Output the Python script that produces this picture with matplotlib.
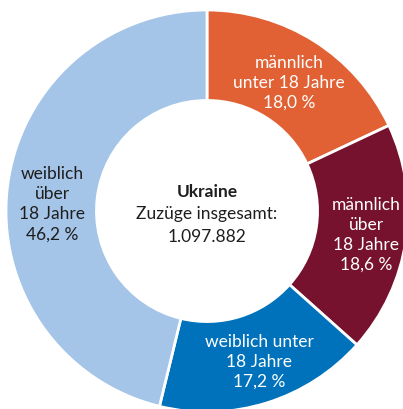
import numpy as np
import matplotlib
matplotlib.use("Agg")
import matplotlib.pyplot as plt

labels = ["männlich\nunter 18 Jahre\n18,0 %", "männlich\nüber\n18 Jahre\n18,6 %",
          "weiblich unter\n18 Jahre\n17,2 %", "weiblich\nüber\n18 Jahre\n46,2 %"]
values = [18.0, 18.6, 17.2, 46.2]
colors = ["#E26134", "#76122E", "#0072BC", "#A4C4E8"]
text_colors = ["white", "white", "white", "#1e1e1e"]
label_r = [0.76, 0.80, 0.79, 0.77]
angle_shift = [0, 0, 2, 4]
center_lines = ["Ukraine", "Zuzüge insgesamt:", "1.097.882"]
center_weights = ["bold", "normal", "normal"]

plt.rcParams['font.family'] = ['Lato', 'DejaVu Sans']

W, H = 403, 410
fig = plt.figure(figsize=(W/100, H/100), dpi=100)
cx, cy, R = 207, 212, 201
ax = fig.add_axes([(cx-R)/W, (H-cy-R)/H, 2*R/W, 2*R/H])
wedges, _ = ax.pie(values, colors=colors, startangle=90, counterclock=False,
                   radius=1, wedgeprops=dict(width=0.45, edgecolor="white", linewidth=2))
ax.set_xlim(-1, 1)
ax.set_ylim(-1, 1)
ax.set_aspect("equal")
ax.axis("off")

fs = 12.5
for w, lab, tc, r, s in zip(wedges, labels, text_colors, label_r, angle_shift):
    mid = np.deg2rad((w.theta1 + w.theta2) / 2 + s)
    ax.text(r*np.cos(mid), r*np.sin(mid), lab, ha="center", va="center",
            color=tc, fontsize=fs, linespacing=1.3, multialignment="center")

for i, (line, wt) in enumerate(zip(center_lines, center_weights)):
    ax.text(0, 0.10 - i*0.112, line, ha="center", va="center", fontsize=fs,
            fontweight=wt, color="#1e1e1e")

fig.savefig("out.png", dpi=100)
